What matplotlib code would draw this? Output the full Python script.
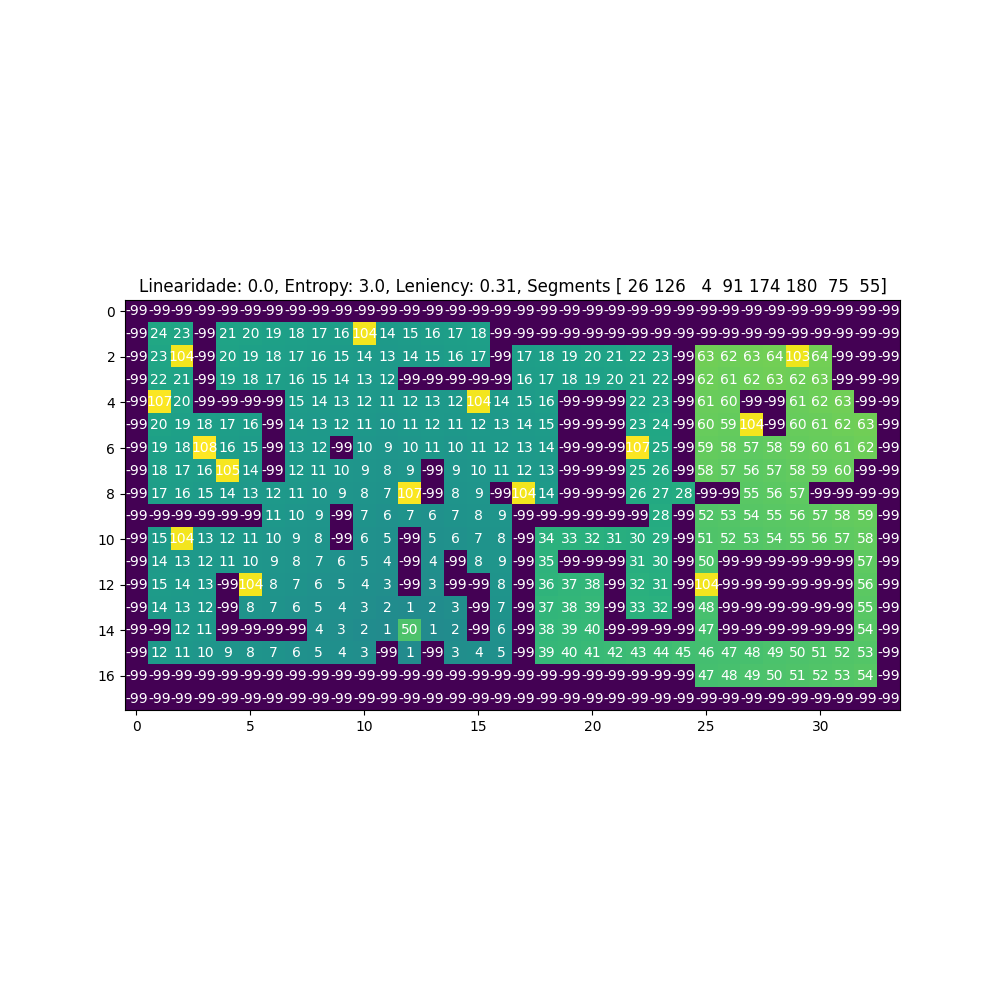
import numpy as np
from matplotlib import pyplot as plt

W = -99

rows = [
    [W] * 34,
    [W, 24, 23, W, 21, 20, 19, 18, 17, 16, 104, 14, 15, 16, 17, 18] + [W] * 18,
    [W, 23, 104, W, 20, 19, 18, 17, 16, 15, 14, 13, 14, 15, 16, 17, W, 17, 18, 19, 20, 21, 22, 23, W, 63, 62, 63, 64, 103, 64, W, W, W],
    [W, 22, 21, W, 19, 18, 17, 16, 15, 14, 13, 12, W, W, W, W, W, 16, 17, 18, 19, 20, 21, 22, W, 62, 61, 62, 63, 62, 63, W, W, W],
    [W, 107, 20, W, W, W, W, 15, 14, 13, 12, 11, 12, 13, 12, 104, 14, 15, 16, W, W, W, 22, 23, W, 61, 60, W, W, 61, 62, 63, W, W],
    [W, 20, 19, 18, 17, 16, W, 14, 13, 12, 11, 10, 11, 12, 11, 12, 13, 14, 15, W, W, W, 23, 24, W, 60, 59, 104, W, 60, 61, 62, 63, W],
    [W, 19, 18, 108, 16, 15, W, 13, 12, W, 10, 9, 10, 11, 10, 11, 12, 13, 14, W, W, W, 107, 25, W, 59, 58, 57, 58, 59, 60, 61, 62, W],
    [W, 18, 17, 16, 105, 14, W, 12, 11, 10, 9, 8, 9, W, 9, 10, 11, 12, 13, W, W, W, 25, 26, W, 58, 57, 56, 57, 58, 59, 60, W, W],
    [W, 17, 16, 15, 14, 13, 12, 11, 10, 9, 8, 7, 107, W, 8, 9, W, 104, 14, W, W, W, 26, 27, 28, W, W, 55, 56, 57, W, W, W, W],
    [W, W, W, W, W, W, 11, 10, 9, W, 7, 6, 7, 6, 7, 8, 9, W, W, W, W, W, W, 28, W, 52, 53, 54, 55, 56, 57, 58, 59, W],
    [W, 15, 104, 13, 12, 11, 10, 9, 8, W, 6, 5, W, 5, 6, 7, 8, W, 34, 33, 32, 31, 30, 29, W, 51, 52, 53, 54, 55, 56, 57, 58, W],
    [W, 14, 13, 12, 11, 10, 9, 8, 7, 6, 5, 4, W, 4, W, 8, 9, W, 35, W, W, W, 31, 30, W, 50, W, W, W, W, W, W, 57, W],
    [W, 15, 14, 13, W, 104, 8, 7, 6, 5, 4, 3, W, 3, W, W, 8, W, 36, 37, 38, W, 32, 31, W, 104, W, W, W, W, W, W, 56, W],
    [W, 14, 13, 12, W, 8, 7, 6, 5, 4, 3, 2, 1, 2, 3, W, 7, W, 37, 38, 39, W, 33, 32, W, 48, W, W, W, W, W, W, 55, W],
    [W, W, 12, 11, W, W, W, W, 4, 3, 2, 1, 50, 1, 2, W, 6, W, 38, 39, 40, W, W, W, W, 47, W, W, W, W, W, W, 54, W],
    [W, 12, 11, 10, 9, 8, 7, 6, 5, 4, 3, W, 1, W, 3, 4, 5, W, 39, 40, 41, 42, 43, 44, 45, 46, 47, 48, 49, 50, 51, 52, 53, W],
    [W] * 25 + [47, 48, 49, 50, 51, 52, 53, 54, W],
    [W] * 34,
]
grid = np.array(rows)

segments = np.array([26, 126, 4, 91, 174, 180, 75, 55])
titulo = "Linearidade: 0.0, Entropy: 3.0, Leniency: 0.31, Segments " + str(segments)

fig = plt.figure(figsize=(10, 10))
plt.imshow(grid)
L, C = grid.shape
for i in range(L):
    for j in range(C):
        plt.text(j, i, str(grid[i, j]), ha="center", va="center", color="w")
plt.title(titulo)
plt.savefig("out.png")
